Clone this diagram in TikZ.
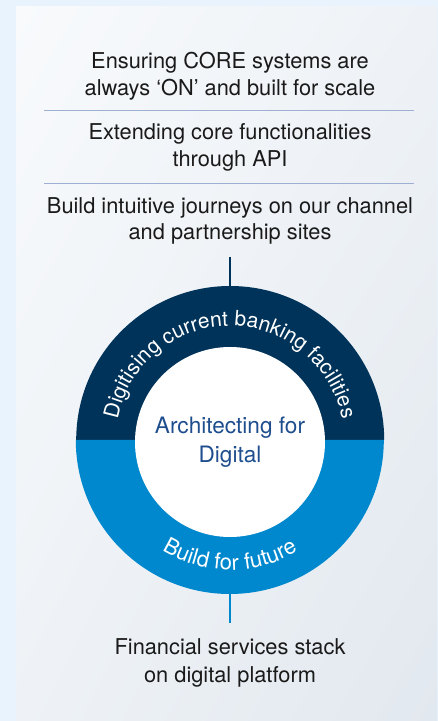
\documentclass[tikz,border=0pt]{standalone}
\usepackage{fontspec}
\setmainfont{TeX Gyre Heros}
\usetikzlibrary{positioning,decorations.text,shadings}
\definecolor{pageblue}{HTML}{E8F3FD}
\definecolor{panelhi}{HTML}{F8FAFC}
\definecolor{panello}{HTML}{E2E8EF}
\definecolor{panelmid}{HTML}{EEF2F6}
\definecolor{ringnavy}{HTML}{003359}
\definecolor{ringazure}{HTML}{0088CE}
\definecolor{hubtext}{HTML}{1F4E8F}
\definecolor{rulecol}{HTML}{9DB0D3}
\definecolor{inktext}{HTML}{1A1A1A}
\newcommand{\bodyfont}{\fontsize{21.8}{26.5}\selectfont}
\newcommand{\ringfont}{\fontsize{21}{24}\selectfont}
\newcommand{\lowringfont}{\fontsize{22}{24}\selectfont}
\tikzset{
  goal/.style={align=center, text=inktext, font=\bodyfont, inner sep=0pt},
  hub/.style={circle, fill=white, minimum size=190pt, inner sep=0pt, align=center,
    text=hubtext, font=\fontsize{22.6}{29}\selectfont},
  divider/.style={rulecol, line width=0.9pt},
  stem/.style={line width=2pt}
}
\begin{document}
\begin{tikzpicture}[x=1pt, y=1pt, line cap=butt]
  \useasboundingbox (0,0) rectangle (438,721);
  % page and panel
  \fill[pageblue] (0,0) rectangle (438,721);
  \shade[upper left=panelhi, upper right=panelmid, lower left=panelmid, lower right=panello]
    (16,0) rectangle (437,714);
  % three goals at the top
  \node[goal] (core) at (230,645) {Ensuring CORE systems are\\always ‘ON’ and built for scale};
  \node[goal] (api) at (230,573.5) {Extending core functionalities\\through API};
  \node[goal] (journey) at (230,500) {Build intuitive journeys on our channel\\and partnership sites};
  \draw[divider] (44,611) -- (414,611);
  \draw[divider] (44,538) -- (414,538);
  % the ring
  \node[circle, minimum size=308pt, inner sep=0pt] (ring) at (230,281) {};
  \fill[ringnavy] (ring.east) arc[start angle=0, end angle=180, radius=154] -- cycle;
  \fill[ringazure] (ring.west) arc[start angle=180, end angle=360, radius=154] -- cycle;
  \node[hub, yshift=-2pt] (hub) at (ring.center) {Architecting for\\Digital};
  % curved labels
  \path[decorate, decoration={text along path, text align=center,
      text={|\color{white}\ringfont|Digitising current banking facilities}}]
    (ring.center) ++(175:114) arc[start angle=175, end angle=5, radius=114];
  \path[decorate, decoration={text along path, text align=center,
      text={|\color{white}\lowringfont|Build for future}}]
    (ring.center) ++(215:130) arc[start angle=215, end angle=325, radius=130];
  % stems
  \coordinate (stemtop) at (230,464);
  \coordinate (stembot) at (230,98);
  \draw[stem, ringnavy] (ring.north) -- (stemtop);
  \draw[stem, ringazure] (ring.south) -- (stembot);
  \node[goal, font=\fontsize{21.8}{27.7}\selectfont] (stack) at (230,58) {Financial services stack\\on digital platform};
\end{tikzpicture}
\end{document}
